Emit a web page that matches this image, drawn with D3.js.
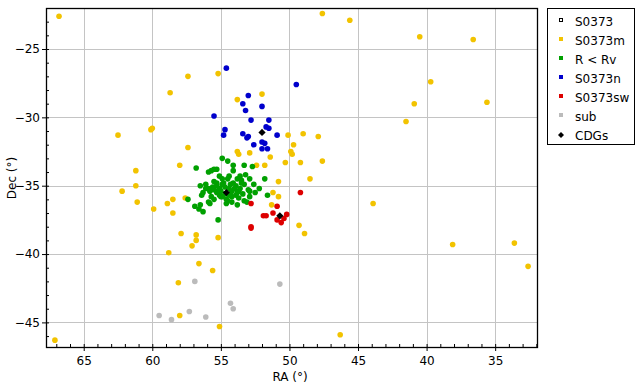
<!DOCTYPE html>
<html>
<head>
<meta charset="utf-8">
<script src="https://cdn.jsdelivr.net/npm/d3@7"></script>
<style>
  body { margin: 0; background: #fff; }
  text { font-family: "DejaVu Sans", Verdana, sans-serif; font-size: 12px; fill: #000; }
</style>
</head>
<body>
<svg id="chart" width="637" height="387"></svg>
<script>
// data: [RA, Dec] in degrees
var s0373 = [];
var s0373m = [
  [66.8,-22.6],[47.6,-22.4],[45.6,-22.9],[40.5,-24.1],[36.6,-24.3],[57.4,-27.0],[55.2,-26.8],
  [58.7,-28.2],[52.0,-28.3],[53.8,-28.7],[39.7,-27.4],[40.9,-29.0],[35.6,-28.9],[41.5,-30.3],
  [62.5,-31.3],[60.0,-30.8],[60.1,-30.9],[57.4,-32.2],[58.0,-33.5],[61.2,-33.9],[61.2,-35.0],
  [62.2,-35.4],[58.5,-36.0],[57.6,-35.9],[53.8,-32.5],[53.7,-32.7],[52.9,-32.6],[52.4,-33.5],
  [51.8,-33.5],[51.4,-32.9],[50.8,-34.7],[51.2,-35.5],[50.8,-35.8],[50.1,-31.3],[49.7,-32.0],
  [49.0,-31.2],[47.9,-31.4],[49.9,-32.5],[49.8,-32.7],[50.3,-33.3],[49.2,-33.3],[48.5,-34.5],
  [47.6,-33.2],[61.1,-36.2],[58.9,-36.3],[59.9,-36.7],[58.5,-37.0],[57.9,-38.5],[56.8,-38.6],
  [56.8,-39.0],[57.1,-39.4],[58.8,-39.9],[55.2,-38.8],[56.6,-40.7],[55.6,-41.2],[58.1,-42.1],
  [58.0,-44.5],[55.1,-45.3],[67.1,-46.3],[51.3,-36.4],[49.3,-37.9],[48.9,-38.5],[43.9,-36.3],
  [38.1,-39.3],[33.6,-39.2],[32.6,-40.9],[46.3,-45.9]
];
var rLessRv = [
  [54.9,-33.0],[54.5,-33.2],[54.1,-33.5],[53.3,-33.5],[52.7,-33.6],[56.8,-33.7],[55.3,-33.8],
  [55.5,-33.8],[55.7,-33.9],[55.9,-34.0],[53.2,-34.2],[53.6,-34.3],[53.8,-34.5],[54.9,-34.5],
  [54.5,-34.5],[51.8,-34.5],[55.5,-34.7],[56.1,-34.9],[56.5,-35.0],[54.1,-34.8],[53.5,-34.8],
  [53.3,-34.9],[52.6,-34.9],[56.1,-35.2],[53.0,-35.3],[52.9,-35.4],[52.2,-35.2],[51.6,-35.7],
  [53.7,-35.4],[56.3,-35.5],[56.4,-35.7],[55.7,-35.8],[57.4,-36.0],[55.9,-36.2],[55.8,-36.3],
  [56.5,-36.4],[56.9,-36.5],[55.0,-35.8],[54.5,-36.1],[54.2,-36.2],[53.8,-36.4],[53.3,-36.1],
  [53.1,-36.2],[56.6,-36.7],[56.3,-36.9],[55.2,-37.5],
  [55.3,-35.0],[55.1,-35.2],[54.9,-34.9],[54.7,-35.1],[54.4,-35.2],[54.2,-35.4],[54.0,-35.2],
  [53.8,-35.5],[55.5,-35.3],[55.3,-35.5],[55.1,-35.7],[54.9,-35.8],[54.7,-35.6],[54.4,-35.7],
  [54.2,-35.8],[53.9,-35.7],[55.2,-35.4],[55.0,-35.4],[55.6,-35.1],[54.3,-34.9],[53.9,-35.0],
  [53.6,-35.2],[53.4,-35.6],[53.7,-35.9],[54.6,-36.0],[55.5,-36.0],[55.8,-35.4],[55.3,-34.8],
  [54.8,-34.8],[55.9,-35.2],[53.5,-34.6],[54.4,-34.3],[54.1,-33.9],[55.1,-34.3],[52.9,-34.5],
  [52.5,-35.5],[52.9,-35.8],[54.6,-36.3]
];
var s0373n = [
  [54.6,-26.4],[49.5,-27.6],[53.0,-28.4],[53.4,-29.0],[52.0,-29.2],[53.2,-29.5],[55.5,-29.9],
  [52.8,-30.2],[51.5,-30.2],[54.7,-30.9],[54.8,-31.3],[53.4,-31.2],[53.0,-31.4],[53.1,-31.5],
  [51.7,-30.7],[51.5,-30.8],[50.9,-31.3],[52.0,-31.8],[51.8,-31.9],[52.6,-32.0],[52.0,-32.3],
  [51.6,-32.3]
];
var s0373sw = [
  [49.2,-35.5],[52.8,-36.3],[50.9,-36.5],[51.2,-37.0],[51.9,-37.2],[51.7,-37.2],[50.2,-37.1],
  [50.9,-37.5],[50.6,-37.7],[50.4,-37.4],[52.8,-38.0],[52.8,-38.1]
];
var sub = [
  [56.9,-42.0],[50.7,-42.2],[54.3,-43.6],[54.1,-44.0],[59.5,-44.5],[58.6,-44.8],[57.3,-44.2],
  [56.1,-44.6]
];
var cdgs = [[52.0,-31.1],[54.6,-35.5],[50.7,-37.2]];

var xTicks = [65, 60, 55, 50, 45, 40, 35];
var yTicks = [-25, -30, -35, -40, -45];
var legendNames = ["S0373", "S0373m", "R < Rv", "S0373n", "S0373sw", "sub", "CDGs"];

var colors = {
  "S0373": "#000", "S0373m": "#f2c300", "R < Rv": "#00a000", "S0373n": "#0000cc",
  "S0373sw": "#dd0000", "sub": "#bbbbbb", "CDGs": "#000"
};

var svg = d3.select("#chart");
var padL = 46, padT = 8, padR = 537, padB = 347;

var x = d3.scaleLinear().domain([67.75, 31.95]).range([padL, padR]);
var y = d3.scaleLinear().domain([-22.0, -46.8]).range([padT, padB]);

// grid
svg.append("g").selectAll("line").data(xTicks).enter().append("line")
  .attr("x1", d => Math.round(x(d)) + 0.5).attr("x2", d => Math.round(x(d)) + 0.5)
  .attr("y1", padT).attr("y2", padB).attr("stroke", "#c4c4c4");
svg.append("g").selectAll("line").data(yTicks).enter().append("line")
  .attr("y1", d => Math.round(y(d)) + 0.5).attr("y2", d => Math.round(y(d)) + 0.5)
  .attr("x1", padL).attr("x2", padR).attr("stroke", "#c4c4c4");

// points
var plot = svg.append("g");
function dots(data, col) {
  plot.append("g").selectAll("circle").data(data).enter().append("circle")
    .attr("cx", d => x(d[0])).attr("cy", d => y(d[1])).attr("r", 2.8)
    .attr("fill", col);
}
dots(sub, colors["sub"]);
dots(s0373m, colors["S0373m"]);
dots(rLessRv, colors["R < Rv"]);
dots(s0373n, colors["S0373n"]);
dots(s0373sw, colors["S0373sw"]);
dots(s0373, colors["S0373"]);

var diamond = d3.symbol().type(d3.symbolSquare).size(26);
plot.append("g").selectAll("path").data(cdgs).enter().append("path")
  .attr("d", diamond)
  .attr("transform", d => "translate(" + x(d[0]) + "," + y(d[1]) + ") rotate(45)")
  .attr("fill", "#000");

// axes
var xAxis = d3.axisBottom(x).tickValues(xTicks).tickSize(4).tickPadding(5).tickFormat(d3.format("d"));
var xMinor = d3.axisBottom(x).tickValues(d3.range(32, 68)).tickSize(-3).tickFormat("");
var yAxis = d3.axisLeft(y).tickValues(yTicks).tickSize(4).tickPadding(2).tickFormat(d3.format("d"));
var yMinor = d3.axisLeft(y).tickValues(d3.range(-46, -22)).tickSize(-3).tickFormat("");

svg.append("g").attr("transform", "translate(0," + padB + ")").call(xMinor);
svg.append("g").attr("transform", "translate(0," + padB + ")").call(xAxis);
svg.append("g").attr("transform", "translate(" + padL + ",0)").call(yMinor);
svg.append("g").attr("transform", "translate(" + padL + ",0)").call(yAxis);
svg.selectAll(".domain").remove();
svg.selectAll(".tick text").style("font-size", "12px").style("font-family", "DejaVu Sans, sans-serif");

// frame
svg.append("rect").attr("x", padL + 0.5).attr("y", padT + 0.5)
  .attr("width", padR - padL).attr("height", padB - padT)
  .attr("fill", "none").attr("stroke", "#000").attr("stroke-width", 1.3);

// axis labels
svg.append("text").attr("x", 290).attr("y", 381).attr("text-anchor", "middle").text("RA (°)");
svg.append("text").attr("transform", "translate(16,178) rotate(-90)")
  .attr("text-anchor", "middle").text("Dec (°)");

// legend
var lg = svg.append("g");
lg.append("rect").attr("x", 547.5).attr("y", 8.5).attr("width", 87).attr("height", 136)
  .attr("fill", "#fff").attr("stroke", "#000");
legendNames.forEach(function(name, i) {
  var cy = 22 + i * 19;
  if (name == "S0373") {
    lg.append("rect").attr("x", 559.5).attr("y", cy - 3.5).attr("width", 3).attr("height", 3)
      .attr("fill", "none").attr("stroke", "#000");
  } else if (name == "CDGs") {
    lg.append("path").attr("d", d3.symbol().type(d3.symbolSquare).size(18))
      .attr("transform", "translate(561," + (cy - 1) + ") rotate(45)").attr("fill", "#000");
  } else {
    lg.append("rect").attr("x", 559).attr("y", cy - 4).attr("width", 4).attr("height", 4)
      .attr("fill", colors[name]);
  }
  lg.append("text").attr("x", 575).attr("y", cy + 4).text(name);
});
</script>
</body>
</html>
